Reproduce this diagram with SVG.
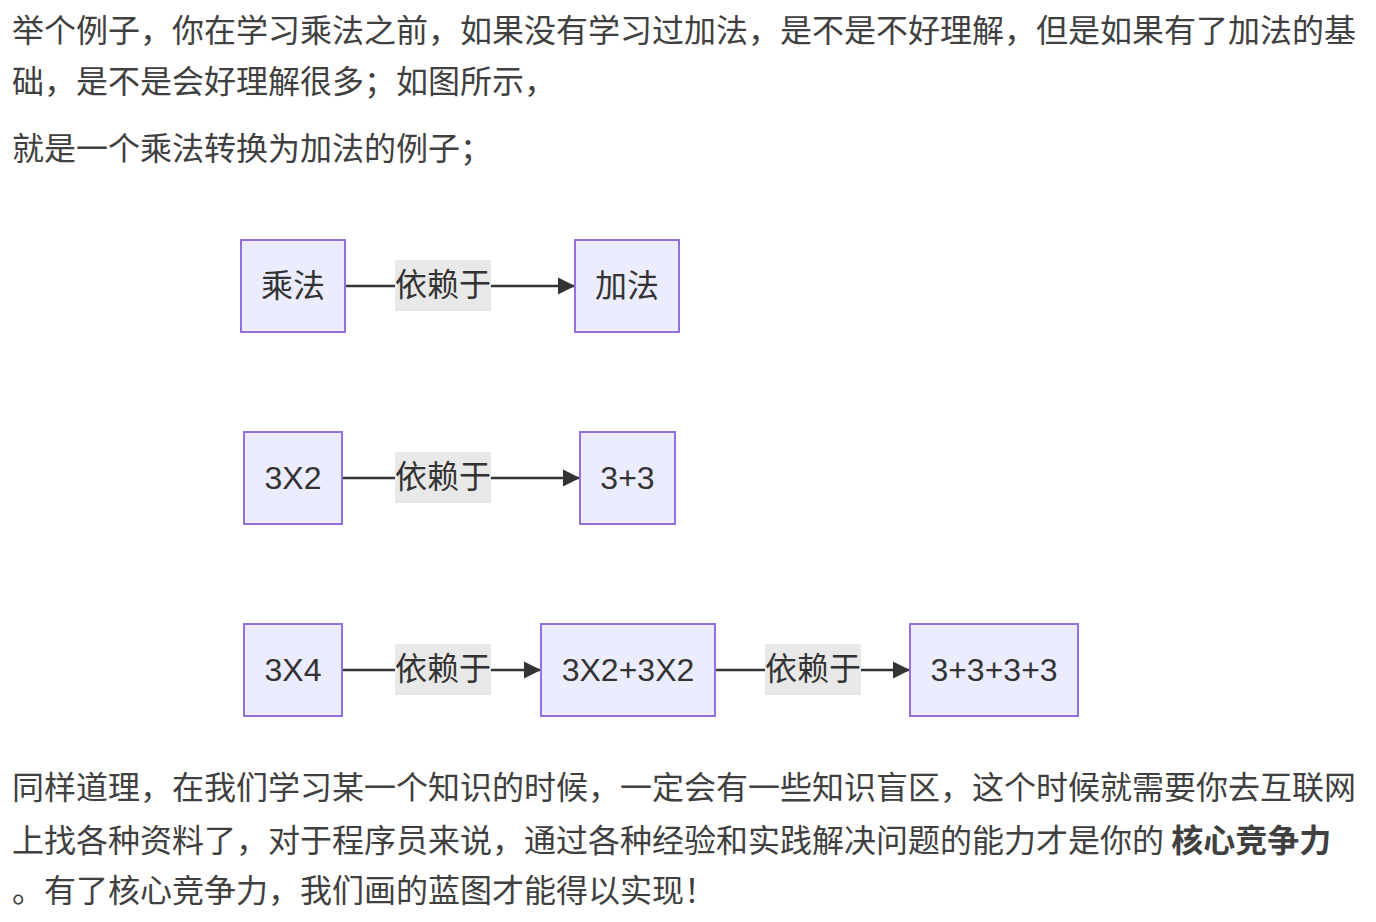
<svg xmlns="http://www.w3.org/2000/svg" width="1376" height="922" viewBox="0 0 1376 922">
<defs>
<style>
.p{font-family:"Noto Sans CJK SC","Liberation Sans",sans-serif;font-size:32px;fill:#404040;}
.n rect{fill:#ECECFF;stroke:#9370DB;stroke-width:2;}
.n text,.lbl text{font-family:"Liberation Sans","Noto Sans CJK SC",sans-serif;font-size:32px;fill:#333;text-anchor:middle;dominant-baseline:central;}
.lbl rect{fill:#e8e8e8;}
.e{stroke:#333;stroke-width:2.5;fill:none;marker-end:url(#arr);}
</style>
<marker id="arr" viewBox="0 0 10 10" refX="10" refY="5" markerUnits="userSpaceOnUse" markerWidth="17" markerHeight="18" orient="auto">
<path d="M0,0 L10,5 L0,10 z" fill="#333"/>
</marker>
</defs>
<rect width="1376" height="922" fill="#fff"/>
<g id="text-top">
<text class="p" x="12" y="42">举个例子，你在学习乘法之前，如果没有学习过加法，是不是不好理解，但是如果有了加法的基</text>
<text class="p" x="12" y="93">础，是不是会好理解很多；如图所示，</text>
<text class="p" x="12" y="160">就是一个乘法转换为加法的例子；</text>
</g>
<g id="connectors">
<line class="e" x1="345" y1="286" x2="575" y2="286"/>
<line class="e" x1="342" y1="478" x2="580" y2="478"/>
<line class="e" x1="342" y1="670" x2="541" y2="670"/>
<line class="e" x1="715" y1="670" x2="910" y2="670"/>
<g class="lbl"><rect x="395" y="260" width="96" height="51"/><text x="443" y="285">依赖于</text></g>
<g class="lbl"><rect x="395" y="452" width="96" height="51"/><text x="443" y="477">依赖于</text></g>
<g class="lbl"><rect x="395" y="644" width="96" height="51"/><text x="443" y="669">依赖于</text></g>
<g class="lbl"><rect x="765" y="644" width="96" height="51"/><text x="813" y="669">依赖于</text></g>
</g>
<g id="n-cf" class="n"><rect x="241" y="240" width="104" height="92"/><text x="293" y="286">乘法</text></g>
<g id="n-jf" class="n"><rect x="575" y="240" width="104" height="92"/><text x="627" y="286">加法</text></g>
<g id="n-3x2" class="n"><rect x="244" y="432" width="98" height="92"/><text x="293" y="478">3X2</text></g>
<g id="n-3p3" class="n"><rect x="580" y="432" width="95" height="92"/><text x="627.500" y="478">3+3</text></g>
<g id="n-3x4" class="n"><rect x="244" y="624" width="98" height="92"/><text x="293" y="670">3X4</text></g>
<g id="n-3x2p" class="n"><rect x="541" y="624" width="174" height="92"/><text x="628" y="670">3X2+3X2</text></g>
<g id="n-3p3p" class="n"><rect x="910" y="624" width="168" height="92"/><text x="994" y="670">3+3+3+3</text></g>
<g id="text-bottom">
<text class="p" x="12" y="799">同样道理，在我们学习某一个知识的时候，一定会有一些知识盲区，这个时候就需要你去互联网</text>
<text class="p" x="12" y="852">上找各种资料了，对于程序员来说，通过各种经验和实践解决问题的能力才是你的 <tspan font-weight="bold">核心竞争力</tspan></text>
<text class="p" x="12" y="902">。有了核心竞争力，我们画的蓝图才能得以实现！</text>
</g>
</svg>
